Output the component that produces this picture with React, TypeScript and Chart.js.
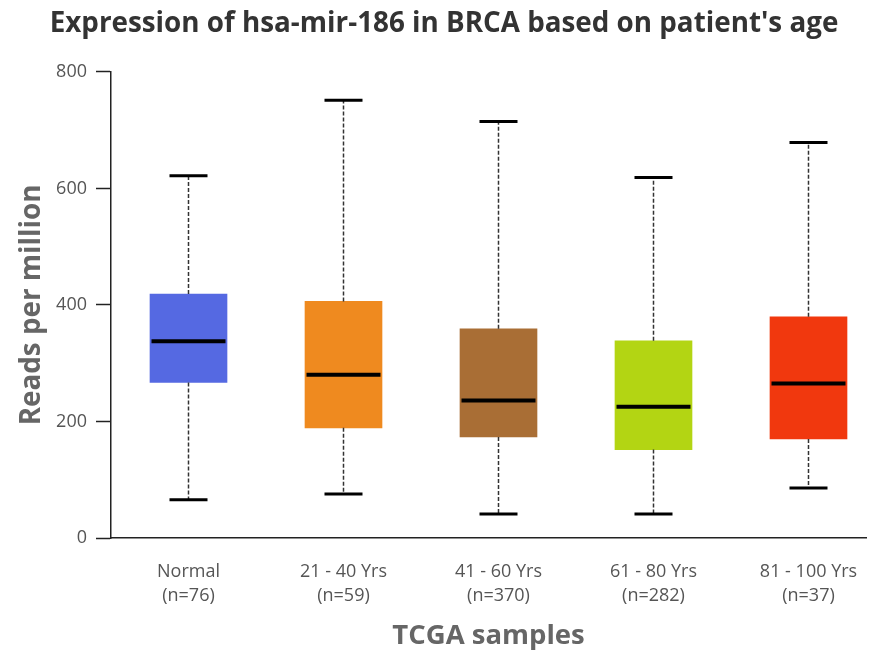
import React, { useEffect, useRef } from "react";
import { Chart, registerables } from "chart.js";

Chart.register(...registerables);

// Sample groups and their box-plot statistics (reads per million)
const categories = ["Normal", "21 - 40 Yrs", "41 - 60 Yrs", "61 - 80 Yrs", "81 - 100 Yrs"];
const sampleCounts = ["(n=76)", "(n=59)", "(n=370)", "(n=282)", "(n=37)"];
const whiskerMin = [65.8, 75.6, 41.2, 41.2, 85.9];
const q1 = [266.8, 189, 173.5, 151.7, 170.1];
const median = [337.8, 280, 235.9, 225.1, 265.1];
const q3 = [418.6, 406, 359.1, 338.5, 379.7];
const whiskerMax = [621.6, 751.4, 714.8, 618.6, 678.7];
const boxColors = ["#5569E2", "#EF8A1F", "#A96E35", "#B3D513", "#F1380E"];
const yTicks = [0, 200, 400, 600, 800];

const FONT = "'Open Sans', 'Noto Sans', sans-serif";
const BOX_WIDTH = 77;

// Draws whiskers, caps and medians on top of the floating bars (Q1..Q3)
const boxWhiskerPlugin = {
  id: "boxWhiskers",
  afterDatasetsDraw(chart: any) {
    const { ctx } = chart;
    const xs = chart.scales.x;
    const ys = chart.scales.y;
    ctx.save();
    categories.forEach((_, i) => {
      const cx = xs.getPixelForValue(i);
      const yMax = ys.getPixelForValue(whiskerMax[i]);
      const yMin = ys.getPixelForValue(whiskerMin[i]);
      const yQ1 = ys.getPixelForValue(q1[i]);
      const yQ3 = ys.getPixelForValue(q3[i]);
      const yMed = ys.getPixelForValue(median[i]);

      // dashed whiskers
      ctx.strokeStyle = "#333";
      ctx.lineWidth = 1.5;
      ctx.setLineDash([4, 2]);
      ctx.beginPath();
      ctx.moveTo(cx, yQ3);
      ctx.lineTo(cx, yMax);
      ctx.moveTo(cx, yQ1);
      ctx.lineTo(cx, yMin);
      ctx.stroke();

      // whisker caps
      ctx.setLineDash([]);
      ctx.strokeStyle = "#000";
      ctx.lineWidth = 3;
      const capHalf = 19;
      ctx.beginPath();
      ctx.moveTo(cx - capHalf, yMax);
      ctx.lineTo(cx + capHalf, yMax);
      ctx.moveTo(cx - capHalf, yMin);
      ctx.lineTo(cx + capHalf, yMin);
      ctx.stroke();

      // median line
      ctx.lineWidth = 4;
      ctx.beginPath();
      ctx.moveTo(cx - BOX_WIDTH / 2 + 1.5, yMed);
      ctx.lineTo(cx + BOX_WIDTH / 2 - 1.5, yMed);
      ctx.stroke();
    });
    ctx.restore();
  },
};

export default function App() {
  const canvasRef = useRef<HTMLCanvasElement | null>(null);

  useEffect(() => {
    if (!canvasRef.current) return;
    const chart = new Chart(canvasRef.current, {
      type: "bar",
      data: {
        datasets: [
          {
            data: categories.map((_, i) => ({ x: i, y: [q1[i], q3[i]] })) as any,
            backgroundColor: boxColors,
            borderWidth: 0,
            barThickness: BOX_WIDTH,
          },
        ],
      },
      options: {
        responsive: false,
        animation: false,
        layout: { padding: { left: 22, right: 10, top: 0, bottom: 0 } },
        plugins: {
          legend: { display: false },
          tooltip: { enabled: false },
          title: {
            display: true,
            text: "Expression of hsa-mir-186 in BRCA based on patient's age",
            color: "#333",
            font: { family: FONT, size: 27.8, weight: "bold", lineHeight: 1.2 },
            padding: { top: 7.5, bottom: 31 },
          },
        },
        scales: {
          x: {
            type: "linear",
            offset: false,
            min: -0.5,
            max: 4.371,
            afterBuildTicks: (scale: any) => {
              scale.ticks = categories.map((_, i) => ({ value: i }));
            },
            afterFit: (scale: any) => {
              scale.height = 117;
              scale.paddingLeft = 0;
              scale.paddingRight = 0;
            },
            ticks: {
              autoSkip: false,
              maxRotation: 0,
              padding: 21.8,
              color: "#555",
              font: { family: FONT, size: 18, lineHeight: 1.35 },
              callback: (v: any) => {
                const i = Number(v);
                return Number.isInteger(i) && i >= 0 && i < categories.length
                  ? [categories[i], sampleCounts[i]]
                  : "";
              },
            },
            grid: { display: false, drawTicks: false },
            border: { display: true, color: "#222", width: 1.5 },
            title: {
              display: true,
              text: "TCGA samples",
              color: "#666",
              font: { family: FONT, size: 27.5, weight: "bold", lineHeight: 1.2 },
              padding: { top: 0, bottom: 2.5 },
            },
          },
          y: {
            min: 0,
            max: 800,
            afterBuildTicks: (scale: any) => {
              scale.ticks = yTicks.map((v) => ({ value: v }));
            },
            afterFit: (scale: any) => {
              scale.width = 89;
            },
            ticks: {
              padding: 9,
              color: "#555",
              font: { family: FONT, size: 18 },
            },
            grid: {
              drawOnChartArea: false,
              drawTicks: true,
              tickLength: 15,
              tickColor: "#222",
              tickWidth: 1.5,
            },
            border: { display: true, color: "#222", width: 1.5 },
            title: {
              display: true,
              text: "Reads per million",
              color: "#666",
              font: { family: FONT, size: 27.8, weight: "bold", lineHeight: 0.5 },
              padding: { top: 3, bottom: 0 },
            },
          },
        },
      },
      plugins: [boxWhiskerPlugin],
    });
    return () => chart.destroy();
  }, []);

  return (
    <div style={{ position: "absolute", left: 0, top: 0, width: 876, height: 655, background: "#fff" }}>
      <canvas ref={canvasRef} width={876} height={655} />
    </div>
  );
}
